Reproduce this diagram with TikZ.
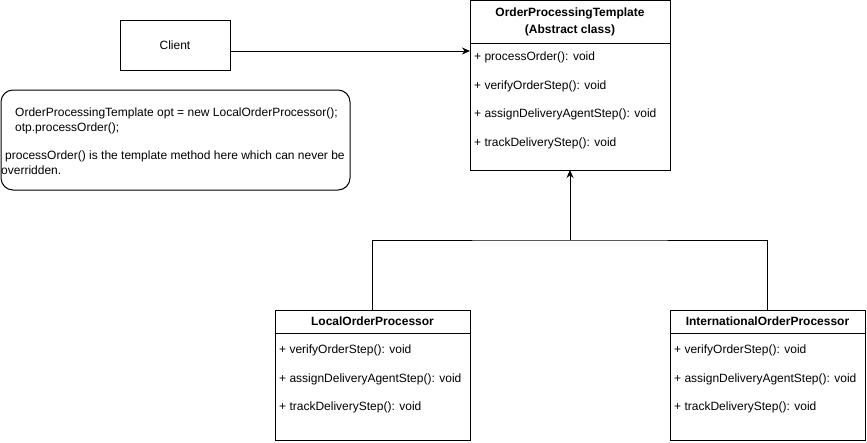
\documentclass[tikz,border=0pt]{standalone}
\usepackage{fontspec}
\setmainfont{Liberation Sans}
\usetikzlibrary{arrows.meta, positioning}

\begin{document}
\begin{tikzpicture}[x=1pt,y=-1pt,>={Stealth[length=8pt,width=7pt]},
 every node/.style={font=\fontsize{12}{14}\selectfont},
 box/.style={draw,line width=1pt,outer sep=0pt,inner sep=0pt},
 head/.style={box,minimum width=#1,minimum height=23pt,
   font=\fontsize{12}{17}\selectfont\bfseries,align=center},
 body/.style={box,minimum width=#1,anchor=north},
 ops/.style={anchor=north west,align=left,inner sep=2pt,
   font=\fontsize{12}{28.5}\selectfont}]
 \useasboundingbox (0,0) rectangle (867,442);

 % abstract class
 \node[head=200pt,minimum height=43pt] (tplHead) at (570,21.5)
   {OrderProcessingTemplate\\(Abstract class)};
 \node[body=200pt,minimum height=127pt,below=0pt of tplHead] (tplBody) {};
 \node[ops] (tplOps) at (472,50)
   {+ processOrder(): void\\
    + verifyOrderStep(): void\\
    + assignDeliveryAgentStep(): void\\
    + trackDeliveryStep(): void};

 % client and note
 \node[box,minimum width=110pt,minimum height=50pt] (client) at (175,45) {Client};
 \node[box,rounded corners=12pt,minimum width=349pt,minimum height=100pt]
   (note) at (175.5,140) {};
 \node[anchor=north west,align=left,inner sep=0pt,
   font=\fontsize{12}{15}\selectfont] (noteText) at (1,108)
   {\hspace*{14pt}OrderProcessingTemplate opt = new LocalOrderProcessor();\\
    \hspace*{14pt}otp.processOrder();\\[13pt]
    \hspace*{4pt}processOrder() is the template method here which can never be\\
    overridden.};

 % subclasses
 \node[head=195pt] (localHead) at (372.5,321.5) {LocalOrderProcessor};
 \node[body=195pt,minimum height=107pt,below=0pt of localHead] (localBody) {};
 \node[ops] (localOps) at (277,343)
   {+ verifyOrderStep(): void\\
    + assignDeliveryAgentStep(): void\\
    + trackDeliveryStep(): void};

 \node[head=195pt] (intlHead) at (767.5,321.5) {InternationalOrderProcessor};
 \node[body=195pt,minimum height=107pt,below=0pt of intlHead] (intlBody) {};
 \node[ops] (intlOps) at (672,343)
   {+ verifyOrderStep(): void\\
    + assignDeliveryAgentStep(): void\\
    + trackDeliveryStep(): void};

 % connectors
 \coordinate (split) at (570,240);
 \draw[->,line width=1pt] ([yshift=-6pt]client.east) -- ([yshift=-6pt]client.east -| tplBody.west);
 \draw[line width=1pt] (localHead.north) |- (split) -| (intlHead.north);
 \draw[->,line width=1pt] (split) -- (tplBody.south);
\end{tikzpicture}
\end{document}
